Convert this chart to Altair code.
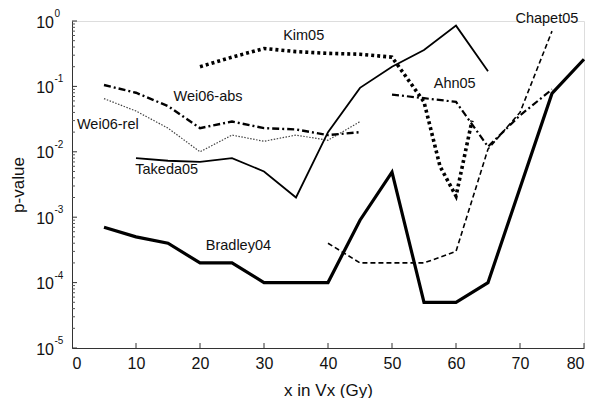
import altair as alt
import pandas as pd

# ---- data ----
bradley_x = [5, 10, 15, 20, 25, 30, 35, 40, 45, 50, 55, 60, 65, 75, 80]
bradley_p = [7e-4, 5e-4, 4e-4, 2e-4, 2e-4, 1e-4, 1e-4, 1e-4, 9e-4, 4.9e-3, 5e-5, 5e-5, 1e-4, 0.078, 0.26]

takeda_x = [10, 15, 20, 25, 30, 35, 40, 45, 50, 55, 60, 65]
takeda_p = [8e-3, 7.3e-3, 7e-3, 8e-3, 5e-3, 2e-3, 0.02, 0.095, 0.2, 0.36, 0.85, 0.17]

kim_x = [20, 25, 30, 35, 40, 45, 50, 55, 57.5, 60, 62.5]
kim_p = [0.2, 0.28, 0.38, 0.34, 0.32, 0.31, 0.28, 0.058, 6e-3, 2.1e-3, 0.03]

weiabs_x = [5, 10, 15, 20, 25, 30, 35, 40, 45]
weiabs_p = [0.105, 0.08, 0.05, 0.023, 0.029, 0.023, 0.022, 0.018, 0.02]

weirel_x = [5, 10, 15, 20, 25, 30, 35, 40, 45]
weirel_p = [0.065, 0.042, 0.023, 0.01, 0.018, 0.0145, 0.018, 0.015, 0.029]

ahn_x = [50, 55, 60, 65, 70, 75]
ahn_p = [0.075, 0.066, 0.058, 0.012, 0.036, 0.09]

chapet_x = [40, 45, 50, 55, 60, 65, 70, 75]
chapet_p = [4e-4, 2e-4, 2e-4, 2e-4, 3e-4, 0.011, 0.04, 0.7]

label_text = ["Kim05", "Wei06-abs", "Wei06-rel", "Takeda05", "Bradley04", "Ahn05", "Chapet05"]
label_x = [36.2, 21.25, 5.6, 14.8, 26.0, 59.8, 74.2]
label_p = [0.60, 0.0689, 0.0254, 5.21e-3, 3.6e-4, 0.110, 1.09]

x_ticks = [0, 10, 20, 30, 40, 50, 60, 70, 80]
decades = [1, 0.1, 0.01, 1e-3, 1e-4, 1e-5]
decade_exp = ["0", "-1", "-2", "-3", "-4", "-5"]
minor_p = [m * d for d in [0.1, 0.01, 1e-3, 1e-4, 1e-5] for m in range(2, 10)]

W, H = 512, 327
FONT = "Liberation Sans"

xscale = alt.Scale(domain=[0, 80], nice=False, zero=False)
yscale = alt.Scale(type="log", domain=[1e-5, 1], nice=False)


def line(xs, ps, dash, width, color="black"):
    df = pd.DataFrame({"x": xs, "p": ps})
    kw = dict(color=color, strokeWidth=width, strokeCap="butt", strokeJoin="miter", clip=False)
    if dash:
        kw["strokeDash"] = dash
    return alt.Chart(df).mark_line(**kw).encode(
        x=alt.X("x:Q", scale=xscale),
        y=alt.Y("p:Q", scale=yscale),
        order="x:Q",
    )


base = alt.Chart(pd.DataFrame({"x": [0, 80], "p": [1e-5, 1]})).mark_point(opacity=0).encode(
    x=alt.X("x:Q", scale=xscale,
            axis=alt.Axis(values=x_ticks, ticks=False, grid=False, title="x in Vx (Gy)",
                          labelFontSize=16, labelPadding=7, titleFontSize=17, titlePadding=11,
                          titleFontWeight="normal", domainColor="#333", labelColor="#111",
                          titleColor="#111", labelFont=FONT, titleFont=FONT)),
    y=alt.Y("p:Q", scale=yscale,
            axis=alt.Axis(values=decades, ticks=False, labels=False, grid=False, title="p-value",
                          titleFontSize=17, titleFontWeight="normal", titleX=-54, titleY=H / 2,
                          titleAngle=-90, titleAlign="center", titleBaseline="middle",
                          domainColor="#333", titleColor="#111", titleFont=FONT)),
)

# inward ticks
xt = alt.Chart(pd.DataFrame({"x": x_ticks[1:]})).mark_rule(color="#333", strokeWidth=1).encode(
    x=alt.X("x:Q", scale=xscale), y=alt.value(H), y2=alt.value(H - 5))
yt = alt.Chart(pd.DataFrame({"p": decades})).mark_rule(color="#333", strokeWidth=1).encode(
    y=alt.Y("p:Q", scale=yscale), x=alt.value(0), x2=alt.value(5))
ym = alt.Chart(pd.DataFrame({"p": minor_p})).mark_rule(color="#555", strokeWidth=1).encode(
    y=alt.Y("p:Q", scale=yscale), x=alt.value(0), x2=alt.value(3))

ylab_df = pd.DataFrame({"p": decades, "base": ["10"] * len(decades), "exp": decade_exp})
ylab = alt.Chart(ylab_df).mark_text(align="right", baseline="middle", fontSize=16, font=FONT,
                                    color="#111", dy=1.5).encode(
    y=alt.Y("p:Q", scale=yscale), x=alt.value(-18), text="base:N")
yexp = alt.Chart(ylab_df).mark_text(align="left", baseline="middle", fontSize=10, font=FONT,
                                    color="#111", dy=-7).encode(
    y=alt.Y("p:Q", scale=yscale), x=alt.value(-17.5), text="exp:N")

labels = alt.Chart(pd.DataFrame({"t": label_text, "x": label_x, "p": label_p})).mark_text(
    fontSize=14.5, font=FONT, color="#111", align="center", baseline="middle").encode(
    x=alt.X("x:Q", scale=xscale), y=alt.Y("p:Q", scale=yscale), text="t:N")

chart = alt.layer(
    base,
    line(weirel_x, weirel_p, [1.5, 1.5], 1.2, "#444"),
    line(weiabs_x, weiabs_p, [7, 3, 2, 3], 2.4),
    line(takeda_x, takeda_p, None, 1.8),
    line(bradley_x, bradley_p, None, 3.2),
    line(kim_x, kim_p, [3, 3], 3.6),
    line(ahn_x, ahn_p, [7, 3, 2, 3], 2.2),
    line(chapet_x, chapet_p, [5, 3], 1.6),
    xt, yt, ym, ylab, yexp, labels,
).properties(
    width=W, height=H,
    autosize=alt.AutoSizeParams(type="none"),
    padding={"left": 64, "top": 13, "right": 8, "bottom": 50},
).configure_view(stroke=None).configure(background="white")

chart.save("out.html", embed_options={"renderer": "svg", "actions": False})
